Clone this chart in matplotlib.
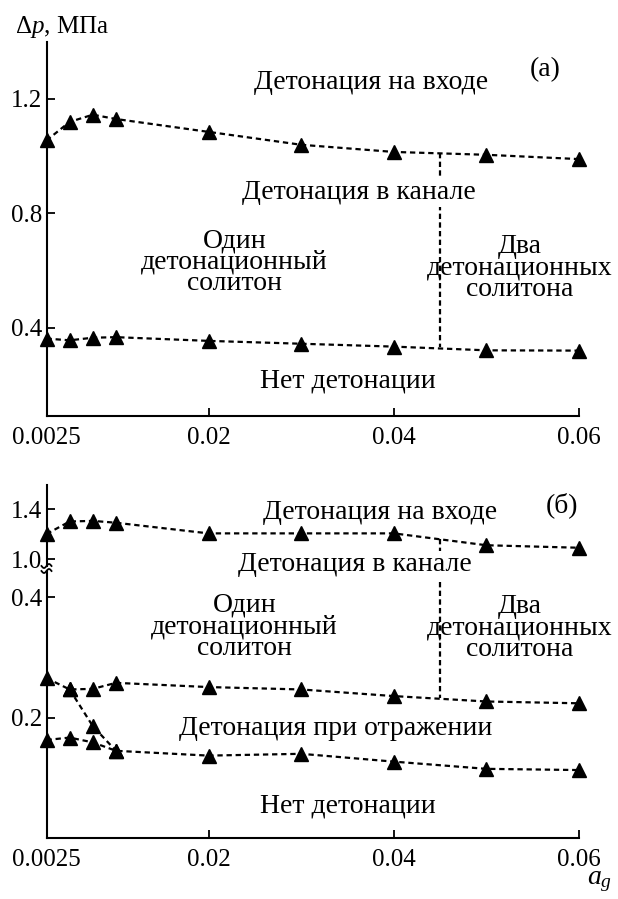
import numpy as np
import matplotlib
matplotlib.use('Agg')
import matplotlib.pyplot as plt
from matplotlib.transforms import IdentityTransform

plt.rcParams['font.family'] = ['Liberation Serif', 'DejaVu Serif']
plt.rcParams['mathtext.fontset'] = 'custom'
plt.rcParams['mathtext.rm'] = 'Liberation Serif'
plt.rcParams['mathtext.it'] = 'Liberation Serif:italic'

# ---------------- data ----------------
a_g = [0.0025, 0.005, 0.0075, 0.01, 0.02, 0.03, 0.04, 0.05, 0.06]

# panel (a)
a_upper = [1.055, 1.12, 1.145, 1.13, 1.085, 1.04, 1.015, 1.005, 0.99]
a_lower = [0.363, 0.357, 0.366, 0.368, 0.355, 0.345, 0.335, 0.322, 0.321]
a_split_x = 0.045
a_split_y = [1.01, 0.335]

# panel (б)
b_upper = [1.20, 1.30, 1.305, 1.29, 1.205, 1.205, 1.205, 1.11, 1.09]
b_middle = [0.266, 0.247, 0.248, 0.258, 0.251, 0.247, 0.236, 0.227, 0.224]
b_lower = [0.163, 0.167, 0.159, 0.145, 0.137, 0.140, 0.127, 0.115, 0.113]
b_branch_x = [0.005, 0.0075, 0.01]
b_branch_y = [0.247, 0.186, 0.145]
b_split_x = 0.045
b_split_y = [1.16, 0.232]

x_ticks = [0.0025, 0.02, 0.04, 0.06]
x_ticklabels = ['0.0025', '0.02', '0.04', '0.06']
a_yticks = [0.4, 0.8, 1.2]
a_yticklabels = ['0.4', '0.8', '1.2']
bu_yticks = [1.0, 1.4]
bu_yticklabels = ['1.0', '1.4']
bl_yticks = [0.2, 0.4]
bl_yticklabels = ['0.2', '0.4']

# ---------------- figure ----------------
FS_TICK = 18
FS = 20
W, H = 618, 899
fig = plt.figure(figsize=(W / 100, H / 100), dpi=100)


def rect(l, t, r, b):
    return [l / W, 1 - b / H, (r - l) / W, (b - t) / H]


ax_a = fig.add_axes(rect(46.5, 42, 579, 416))
ax_bu = fig.add_axes(rect(46.5, 485, 579, 566))
ax_bl = fig.add_axes(rect(46.5, 571, 579, 838))

line_kw = dict(color='black', lw=1.6, ls=(0, (2.4, 1.7)), marker='^', ms=10,
               mfc='black', mec='black', clip_on=False)
vline_kw = dict(color='black', lw=1.6, ls=(0, (2.4, 1.5)))

for ax in (ax_a, ax_bu, ax_bl):
    ax.set_xlim(0.0025, 0.06)
    for s in ('top', 'right'):
        ax.spines[s].set_visible(False)
    for s in ('left', 'bottom'):
        ax.spines[s].set_linewidth(1.5)
    ax.tick_params(direction='in', length=6, width=1.3, labelsize=FS_TICK)
    ax.tick_params(axis='y', pad=3)
    ax.tick_params(axis='x', pad=8)
    ax.patch.set_visible(False)

tk = dict(fontsize=FS, ha='center', va='center', linespacing=0.82)
wbox = dict(facecolor='white', edgecolor='none', pad=1.5)

# ---- panel (a) ----
ax_a.set_ylim(0.0926, 1.399)
ax_a.set_xticks(x_ticks, x_ticklabels)
ax_a.set_yticks(a_yticks, a_yticklabels)
ax_a.plot(a_g, a_upper, **line_kw)
ax_a.plot(a_g, a_lower, **line_kw)
ax_a.plot([a_split_x, a_split_x], a_split_y, **vline_kw)

ax_a.text(0.0375, 1.259, 'Детонация на входе', **tk)
ax_a.text(0.0563, 1.301, '(а)', **tk)
ax_a.text(0.0362, 0.872, 'Детонация в канале', bbox=wbox, **tk)
ax_a.text(0.0228, 0.63, 'Один\nдетонационный\nсолитон', **tk)
ax_a.text(0.0536, 0.61, 'Два\nдетонационных\nсолитона', **tk)
ax_a.text(0.0350, 0.215, 'Нет детонации', **tk)
fig.text(15 / W, 1 - 27 / H, r'$\Delta p$, МПа', fontsize=FS_TICK, ha='left', va='center')

# ---- panel (б) upper segment ----
ax_bu.set_ylim(0.944, 1.592)
ax_bu.spines['bottom'].set_visible(False)
ax_bu.set_xticks([])
ax_bu.set_yticks(bu_yticks, bu_yticklabels)
ax_bu.plot(a_g, b_upper, **line_kw)
ax_bu.plot([b_split_x, b_split_x], b_split_y, **vline_kw)
ax_bu.text(0.0385, 1.368, 'Детонация на входе', **tk)
ax_bu.text(0.0582, 1.432, '(б)', **tk)

# ---- panel (б) lower segment ----
ax_bl.set_ylim(0.0, 0.444)
ax_bl.set_xticks(x_ticks, x_ticklabels)
ax_bl.set_yticks(bl_yticks, bl_yticklabels)
ax_bl.plot(a_g, b_middle, **line_kw)
ax_bl.plot(a_g, b_lower, **line_kw)
ax_bl.plot(b_branch_x, b_branch_y, **line_kw)
ax_bl.plot([b_split_x, b_split_x], b_split_y, **vline_kw)
fig.text(0.0358, 0.454, 'Детонация в канале', transform=ax_bl.transData,
         bbox=wbox, **tk)
ax_bl.text(0.0239, 0.351, 'Один\nдетонационный\nсолитон', **tk)
ax_bl.text(0.0536, 0.349, 'Два\nдетонационных\nсолитона', **tk)
ax_bl.text(0.0337, 0.182, 'Детонация при отражении', **tk)
ax_bl.text(0.0350, 0.053, 'Нет детонации', **tk)
fig.text(600 / W, 1 - 882 / H, r'$a_g$', fontsize=FS, ha='center', va='center')

# ---- axis break marks ----
fig.canvas.draw()
t = np.linspace(-1, 1, 40)
for ax, yf in ((ax_bu, 0.0), (ax_bl, 1.0)):
    px, py = ax.transAxes.transform((0, yf))
    xs = px + 5 * t
    ys = py + 2.0 * np.sin(np.pi * t)
    fig.add_artist(plt.Line2D(xs, ys, transform=IdentityTransform(),
                              color='black', lw=1.3))

fig.savefig('out.png', dpi=100)
